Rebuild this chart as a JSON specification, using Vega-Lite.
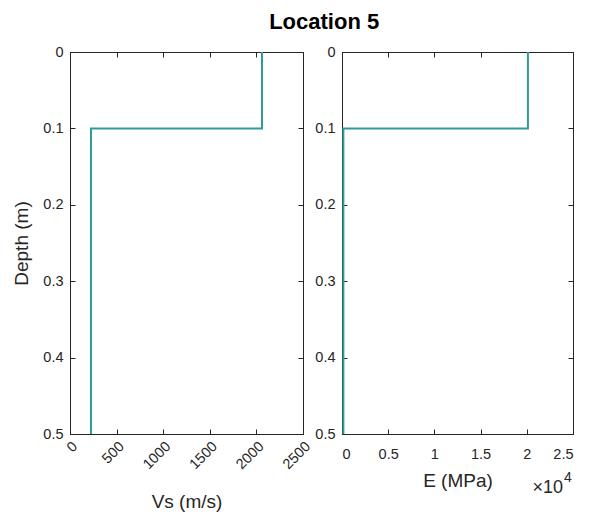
{
  "$schema": "https://vega.github.io/schema/vega-lite/v6.json",
  "background": "white",
  "padding": {"left": 12, "top": 10, "right": 5, "bottom": 5},
  "title": {"text": "Location 5", "font": "Liberation Sans", "fontSize": 22, "fontWeight": "bold", "color": "#000000", "anchor": "middle", "offset": 10, "dx": 31},
  "spacing": 0,
  "config": {
    "view": {"stroke": "#262626", "strokeWidth": 1},
    "axis": {
      "labelFont": "Liberation Sans", "labelFontSize": 14.5, "labelColor": "#262626",
      "titleFont": "Liberation Sans", "titleFontSize": 19, "titleColor": "#262626", "titleFontWeight": "normal",
      "domainColor": "#262626", "tickColor": "#262626", "tickSize": -5, "labelPadding": 12, "grid": false
    }
  },
  "hconcat": [
    {
      "width": 233, "height": 382,
      "data": {"values": [
        {"o": 1, "depth": 0, "Vs": 2060},
        {"o": 2, "depth": 0.1, "Vs": 2060},
        {"o": 3, "depth": 0.1, "Vs": 225},
        {"o": 4, "depth": 0.5, "Vs": 225}
      ]},
      "resolve": {"axis": {"x": "independent", "y": "independent"}},
      "layer": [
        {
          "mark": {"type": "line", "color": "#2f9a9a", "strokeWidth": 2},
          "encoding": {
            "x": {"field": "Vs", "type": "quantitative", "scale": {"domain": [0, 2500], "nice": false},
                  "axis": {"orient": "bottom", "title": "Vs (m/s)", "values": [0, 500, 1000, 1500, 2000, 2500], "format": "d", "labelAngle": -45, "labelPadding": 10, "titlePadding": 21}},
            "y": {"field": "depth", "type": "quantitative", "scale": {"domain": [0, 0.5], "reverse": true, "nice": false},
                  "axis": {"orient": "left", "title": "Depth (m)", "values": [0, 0.1, 0.2, 0.3, 0.4, 0.5], "format": "~g", "titlePadding": 11}},
            "order": {"field": "o"}
          }
        },
        {
          "mark": {"type": "line", "opacity": 0},
          "encoding": {
            "x": {"field": "Vs", "type": "quantitative", "axis": {"orient": "top", "labels": false, "title": null, "values": [0, 500, 1000, 1500, 2000, 2500]}},
            "y": {"field": "depth", "type": "quantitative", "axis": {"orient": "right", "labels": false, "title": null, "values": [0, 0.1, 0.2, 0.3, 0.4, 0.5]}},
            "order": {"field": "o"}
          }
        }
      ]
    },
    {
      "width": 231, "height": 382,
      "data": {"values": [
        {"o": 1, "depth": 0, "E": 20120},
        {"o": 2, "depth": 0.1, "E": 20120},
        {"o": 3, "depth": 0.1, "E": 150},
        {"o": 4, "depth": 0.5, "E": 150}
      ]},
      "resolve": {"axis": {"x": "independent", "y": "independent"}},
      "layer": [
        {
          "mark": {"type": "line", "color": "#2f9a9a", "strokeWidth": 2},
          "encoding": {
            "x": {"field": "E", "type": "quantitative", "scale": {"domain": [0, 25000], "nice": false},
                  "axis": {"orient": "bottom", "title": "E (MPa)", "values": [0, 5000, 10000, 15000, 20000, 25000], "labelExpr": "format(datum.value / 10000, '~g')", "labelPadding": 18, "titlePadding": 11}},
            "y": {"field": "depth", "type": "quantitative", "scale": {"domain": [0, 0.5], "reverse": true, "nice": false},
                  "axis": {"orient": "left", "title": null, "values": [0, 0.1, 0.2, 0.3, 0.4, 0.5], "format": "~g"}},
            "order": {"field": "o"}
          }
        },
        {
          "mark": {"type": "line", "opacity": 0},
          "encoding": {
            "x": {"field": "E", "type": "quantitative", "axis": {"orient": "top", "labels": false, "title": null, "values": [0, 5000, 10000, 15000, 20000, 25000]}},
            "y": {"field": "depth", "type": "quantitative", "axis": {"orient": "right", "labels": false, "title": null, "values": [0, 0.1, 0.2, 0.3, 0.4, 0.5]}},
            "order": {"field": "o"}
          }
        },
        {
          "data": {"values": [{"label": "×10", "E": 25000, "depth": 0.5}]},
          "mark": {"type": "text", "align": "right", "baseline": "middle", "dy": 54, "dx": -10, "clip": false, "font": "Liberation Sans", "fontSize": 18, "color": "#262626"},
          "encoding": {
            "x": {"field": "E", "type": "quantitative", "axis": null},
            "y": {"field": "depth", "type": "quantitative", "axis": null},
            "text": {"field": "label"}
          }
        },
        {
          "data": {"values": [{"label": "4", "E": 25000, "depth": 0.5}]},
          "mark": {"type": "text", "align": "left", "baseline": "middle", "dy": 44, "dx": -9, "clip": false, "font": "Liberation Sans", "fontSize": 14, "color": "#262626"},
          "encoding": {
            "x": {"field": "E", "type": "quantitative", "axis": null},
            "y": {"field": "depth", "type": "quantitative", "axis": null},
            "text": {"field": "label"}
          }
        }
      ]
    }
  ]
}
